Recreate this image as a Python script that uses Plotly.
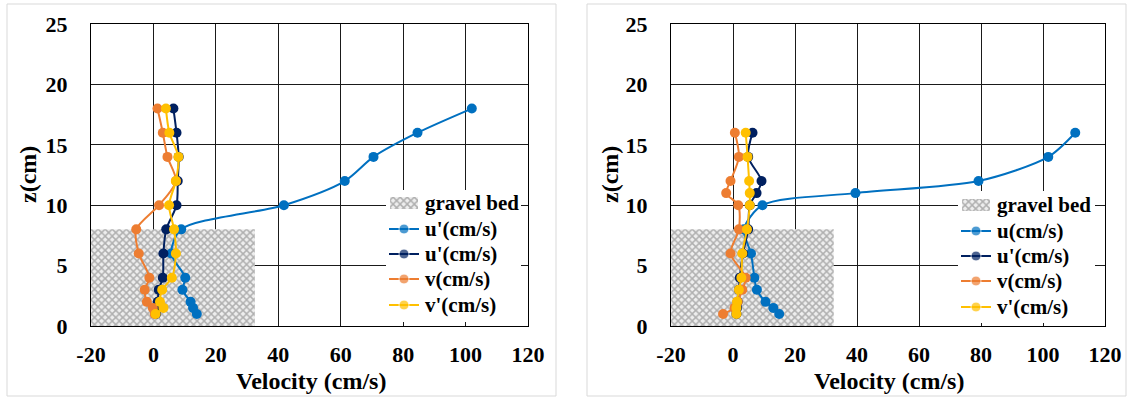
import plotly.graph_objects as go

# ---- data: left profile ----
z_left = [1, 1.5, 2, 3, 4, 6, 8, 10, 12, 14, 16, 18]
u_left = [13.9, 12.7, 11.9, 9.3, 10.2, 5.7, 8.9, 41.8, 61.3, 70.5, 84.6, 102.0]
up_left = [0.8, 1.2, 1.4, 1.7, 3.0, 3.2, 4.1, 7.4, 7.8, 8.1, 7.4, 6.4]
v_left = [0.4, -0.2, -2.1, -2.8, -1.3, -4.7, -5.5, 1.8, 7.2, 4.5, 3.0, 1.3]
vp_left = [0.7, 3.2, 2.1, 2.8, 5.9, 7.2, 6.6, 5.0, 7.2, 8.0, 5.1, 4.0]
names_left = ["u'(cm/s)", "u'(cm/s)", "v(cm/s)", "v'(cm/s)"]

# ---- data: right profile ----
z_right = [1, 1.5, 2, 3, 4, 6, 8, 10, 11, 12, 14, 16]
u_right = [14.9, 13.0, 10.5, 7.7, 6.9, 5.8, 3.5, 9.5, 39.5, 79.2, 101.7, 110.4]
up_right = [1.1, 1.3, 1.5, 1.9, 2.2, 3.2, 4.9, 5.4, 7.6, 9.2, 4.9, 6.3]
v_right = [-3.2, 0.5, 1.5, 3.0, 4.1, -0.8, 1.9, 1.7, -2.2, -0.8, 1.9, 0.6]
vp_right = [1.1, 1.1, 1.3, 1.9, 2.7, 3.0, 4.5, 5.4, 5.4, 5.2, 4.7, 4.1]
names_right = ["u(cm/s)", "u'(cm/s)", "v(cm/s)", "v'(cm/s)"]

bed_label = "gravel bed"

# axis ticks
x_ticks = [-20, 0, 20, 40, 60, 80, 100, 120]
x_ticktext = ["-20", "0", "20", "40", "60", "80", "100", "120"]
z_ticks = [0, 5, 10, 15, 20, 25]

# gravel bed extent (cm/s on x, cm on z)
bed_x0, bed_x1 = -20, 32.5
bed_top = 8

colors = ["#0070C0", "#002060", "#ED7D31", "#FFC000"]
FONT = "Times New Roman, Liberation Serif, serif"
W, H = 1132, 398

GRAVEL = dict(shape="x", size=5, solidity=0.5, fgcolor="#707070", bgcolor="#eeeeee")

fig = go.Figure()


def add_panel(xa, ya, z, series):
    fig.add_trace(go.Bar(
        y=[bed_top / 2], x=[bed_x1 - bed_x0], base=[bed_x0], width=[bed_top],
        orientation="h", showlegend=False, xaxis=xa, yaxis=ya,
        marker=dict(color="#eeeeee", line=dict(width=0), pattern=GRAVEL),
    ))
    for vals, c in zip(series, colors):
        fig.add_trace(go.Scatter(
            x=vals, y=z, mode="lines+markers", showlegend=False, xaxis=xa, yaxis=ya,
            line=dict(color=c, width=2, shape="spline", smoothing=0.8),
            marker=dict(color=c, size=10),
        ))


add_panel("x", "y", z_left, [u_left, up_left, v_left, vp_left])
add_panel("x2", "y2", z_right, [u_right, up_right, v_right, vp_right])

# ---- key boxes, drawn on overlay axes measured in pixels ----
# (box left, box right, box top, box bottom, swatch left, text left, row centres)
keys = [
    ("x3", "y3", (386, 521, 190, 322, 389, 423, [203, 229, 254, 279, 305]), names_left),
    ("x4", "y4", (958, 1095, 191, 323, 961, 995, [205, 231, 256, 281, 307]), names_right),
]
label_font = dict(family=FONT, size=21, color="black", weight="bold")

for xa, ya, (bl, br, bt, bb, sl, tl, rows), names in keys:
    # white backing that hides the grid under the key
    fig.add_trace(go.Scatter(
        x=[bl, br, br, bl, bl], y=[bt, bt, bb, bb, bt], mode="lines", fill="toself",
        fillcolor="white", line=dict(width=0), showlegend=False, hoverinfo="skip",
        xaxis=xa, yaxis=ya,
    ))
    # patterned swatch for the gravel bed
    r0 = rows[0]
    fig.add_trace(go.Scatter(
        x=[sl + 1, sl + 29, sl + 29, sl + 1, sl + 1],
        y=[r0 - 6, r0 - 6, r0 + 6, r0 + 6, r0 - 6], mode="lines", fill="toself",
        fillcolor="#eeeeee", fillpattern=GRAVEL, line=dict(width=0),
        showlegend=False, hoverinfo="skip", xaxis=xa, yaxis=ya,
    ))
    # line + marker swatches
    for r, c in zip(rows[1:], colors):
        fig.add_trace(go.Scatter(
            x=[sl, sl + 15, sl + 30], y=[r, r, r], mode="lines+markers",
            line=dict(color=c, width=2), marker=dict(color=c, size=[0, 10, 0]),
            showlegend=False, hoverinfo="skip", xaxis=xa, yaxis=ya,
        ))
    for r, label in zip(rows, [bed_label] + names):
        fig.add_annotation(text=label, xref=xa, yref=ya, x=tl, y=r, showarrow=False,
                           xanchor="left", yanchor="middle", font=label_font)
    fig.layout[xa.replace("x", "xaxis")] = dict(
        domain=[bl / W, br / W], range=[bl, br], visible=False, fixedrange=True)
    fig.layout[ya.replace("y", "yaxis")] = dict(
        domain=[1 - bb / H, 1 - bt / H], range=[bb, bt], visible=False, fixedrange=True)

tickfont = dict(family=FONT, size=22, color="black", weight="bold")
ax_common = dict(showgrid=True, gridcolor="#1a1a1a", gridwidth=1, showline=True,
                 linecolor="black", linewidth=1, mirror=True, zeroline=False,
                 ticks="", tickfont=tickfont, automargin=False)
x_common = dict(range=[-20, 120], tickmode="array", tickvals=x_ticks,
                ticktext=x_ticktext, ticklabelstandoff=9, **ax_common)
y_common = dict(range=[0, 25], tickmode="array", tickvals=z_ticks,
                ticklabelstandoff=18, **ax_common)

y_dom = [1 - 326 / H, 1 - 24 / H]
fig.update_layout(
    xaxis=dict(domain=[91 / W, 528 / W], anchor="y", **x_common),
    xaxis2=dict(domain=[671 / W, 1105 / W], anchor="y2", **x_common),
    yaxis=dict(domain=y_dom, anchor="x", **y_common),
    yaxis2=dict(domain=y_dom, anchor="x2", **y_common),
)

# panel frames
for x0, x1 in [(7, 556), (587, 1126)]:
    fig.add_shape(type="rect", xref="paper", yref="paper",
                  x0=x0 / W, x1=x1 / W, y0=1 - 396 / H, y1=1 - 4 / H,
                  line=dict(color="#d9d9d9", width=1), fillcolor="rgba(0,0,0,0)")

# axis titles
title_font = dict(family=FONT, size=24, color="black", weight="bold")
for xc in [311, 889]:
    fig.add_annotation(text="Velocity (cm/s)", xref="paper", yref="paper",
                       x=xc / W, y=1 - 381 / H, showarrow=False, font=title_font,
                       xanchor="center", yanchor="middle")
for xc in [28, 610]:
    fig.add_annotation(text="z(cm)", xref="paper", yref="paper", textangle=-90,
                       x=xc / W, y=1 - 175 / H, showarrow=False, font=title_font,
                       xanchor="center", yanchor="middle")

fig.update_layout(
    width=W, height=H, margin=dict(l=0, r=0, t=0, b=0),
    paper_bgcolor="white", plot_bgcolor="white", showlegend=False,
)

fig.write_html("out.html")
